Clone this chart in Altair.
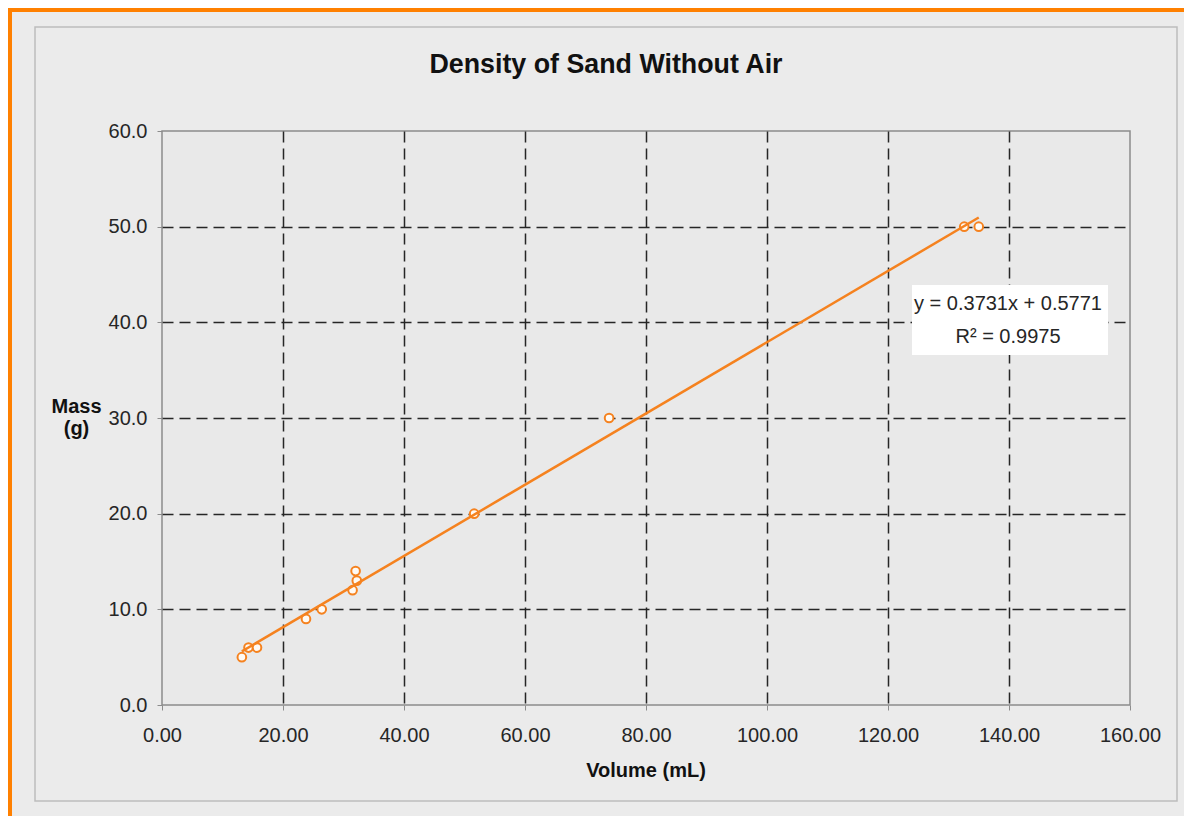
import altair as alt
import pandas as pd

# ---- data ----
volume = [13.2, 14.3, 15.7, 23.8, 26.4, 31.5, 32.2, 32.0, 51.6, 73.9, 132.6, 135.0]
mass = [5.0, 6.0, 6.0, 9.0, 10.0, 12.0, 13.0, 14.0, 20.0, 30.0, 50.0, 50.0]
x_ticks = [0, 20, 40, 60, 80, 100, 120, 140, 160]
y_ticks = [0, 10, 20, 30, 40, 50, 60]
title_text = "Density of Sand Without Air"
x_title = "Volume (mL)"
y_title_lines = ["Mass", "(g)"]
equation_lines = ["y = 0.3731x + 0.5771", "R\u00b2 = 0.9975"]

df = pd.DataFrame({"volume": volume, "mass": mass})
one = pd.DataFrame({"k": [0]})

ORANGE = "#f5821f"
BORDER_ORANGE = "#ff8000"
FONT = "Liberation Sans"
W, H = 968, 574

x_enc = alt.X(
    "volume:Q",
    scale=alt.Scale(domain=[0, 160], nice=False, zero=False),
    axis=alt.Axis(
        values=x_ticks, format=".2f", title=None, labelPadding=15, labelFlush=False,
        gridOpacity={"condition": {"test": "datum.value === 0 || datum.value === 160", "value": 0}, "value": 1},
    ),
)
y_enc = alt.Y(
    "mass:Q",
    scale=alt.Scale(domain=[0, 60], nice=False, zero=False),
    axis=alt.Axis(
        values=y_ticks, format=".1f", title=None, labelPadding=10, labelFlush=False,
        gridOpacity={"condition": {"test": "datum.value === 0 || datum.value === 60", "value": 0}, "value": 1},
    ),
)

base = alt.Chart(df)

# decorative frame: orange top/left border and the grey chart-area outline
border_top = alt.Chart(one).mark_rect(fill=BORDER_ORANGE).encode(
    x=alt.value(-154), x2=alt.value(1022), y=alt.value(-123), y2=alt.value(-119))
border_left = alt.Chart(one).mark_rect(fill=BORDER_ORANGE).encode(
    x=alt.value(-154), x2=alt.value(-150), y=alt.value(-123), y2=alt.value(685))
frame = alt.Chart(one).mark_rect(fillOpacity=0, stroke="#bdbdbd", strokeWidth=1.5).encode(
    x=alt.value(-127), x2=alt.value(1015), y=alt.value(-104), y2=alt.value(670))

points = base.mark_circle(fill="#fffaf4", stroke=ORANGE, strokeWidth=2, size=75, opacity=1).encode(
    x=x_enc, y=y_enc)
trend = base.transform_regression("volume", "mass").mark_line(color=ORANGE, strokeWidth=2.5).encode(
    x="volume:Q", y="mass:Q")

eq_box = alt.Chart(one).mark_rect(fill="white").encode(
    x=alt.value(750), x2=alt.value(946), y=alt.value(154), y2=alt.value(224))
eq1 = alt.Chart(one).mark_text(font=FONT, fontSize=20, color="#262626", align="center", baseline="alphabetic").encode(
    x=alt.value(846), y=alt.value(179), text=alt.value(equation_lines[0]))
eq2 = alt.Chart(one).mark_text(font=FONT, fontSize=20, color="#262626", align="center", baseline="alphabetic").encode(
    x=alt.value(846), y=alt.value(212), text=alt.value(equation_lines[1]))

title = alt.Chart(one).mark_text(font=FONT, fontSize=26.8, fontWeight="bold", color="#111111",
                                 align="center", baseline="alphabetic").encode(
    x=alt.value(W / 2 - 40), y=alt.value(-58), text=alt.value(title_text))
xt = alt.Chart(one).mark_text(font=FONT, fontSize=20, fontWeight="bold", color="#111111",
                              align="center", baseline="alphabetic").encode(
    x=alt.value(W / 2), y=alt.value(646), text=alt.value(x_title))
yt1 = alt.Chart(one).mark_text(font=FONT, fontSize=20, fontWeight="bold", color="#111111",
                               align="center", baseline="alphabetic").encode(
    x=alt.value(-85.5), y=alt.value(282), text=alt.value(y_title_lines[0]))
yt2 = alt.Chart(one).mark_text(font=FONT, fontSize=20, fontWeight="bold", color="#111111",
                               align="center", baseline="alphabetic").encode(
    x=alt.value(-85.5), y=alt.value(304), text=alt.value(y_title_lines[1]))

chart = alt.layer(
    border_top, border_left, frame, points, trend, eq_box, eq1, eq2, title, xt, yt1, yt2
).properties(
    width=W, height=H, padding=0, background="#ebebeb"
).configure_view(
    fill="#e9e9e9", stroke="#8c8c8c", strokeWidth=1.5
).configure_axis(
    labelFont=FONT, labelFontSize=20, labelColor="#262626",
    tickColor="#8c8c8c", tickSize=5, tickWidth=1, domain=False,
    gridColor="#262626", gridDash=[11, 6], gridWidth=1.5,
)

chart.save("out.html", embed_options={"renderer": "svg", "actions": False})
